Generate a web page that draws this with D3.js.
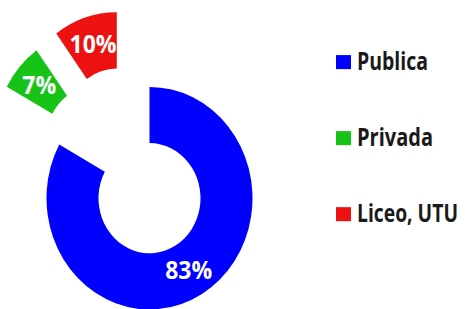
<!DOCTYPE html>
<html>
<head>
<meta charset="utf-8">
<script src="https://cdn.jsdelivr.net/npm/d3@7"></script>
<style>
  body { margin: 0; background: #fff; }
  svg { display: block; }
</style>
</head>
<body>
<div class="chart"></div>
<script>
// data
var categories = ['Publica', 'Privada', 'Liceo, UTU'];
var shares = [83, 7, 10];
var colors = ['#0000ff', '#17c317', '#ee1111'];

// layout (the original looks a bit stretched vertically)
var W = 465, H = 309, stretch = 1.08;
var cx = 149.5, cy = 183.5, outerR = 103, innerR = 51;
// pulled out slices: distance and direction (deg, clockwise from top)
var pullDist = [0, 75, 76.5];
var pullDir = [0, 315.6, 334.7];

var svg = d3.select('.chart').append('svg')
  .attr('width', W)
  .attr('height', H);

var g = svg.append('g')
  .attr('transform', 'scale(1,' + stretch + ')');

var pie = d3.pie().sort(null).value(function(d){ return d; });
var arcs = pie(shares);

var arc = d3.arc().innerRadius(innerR).outerRadius(outerR);

var slices = g.selectAll('g.slice')
  .data(arcs)
  .enter().append('g')
  .attr('class', 'slice')
  .attr('transform', function(d, i){
    var a = pullDir[i] * Math.PI / 180;
    var x = cx + Math.sin(a) * pullDist[i];
    var y = cy - Math.cos(a) * pullDist[i];
    return 'translate(' + x + ',' + y + ')';
  });

slices.append('path')
  .attr('d', arc)
  .attr('fill', function(d, i){ return colors[i]; });

var total = d3.sum(shares);
slices.append('text')
  .attr('transform', function(d){
    var c = arc.centroid(d);
    return 'translate(' + c[0] + ',' + c[1] + ')';
  })
  .attr('text-anchor', 'middle')
  .attr('dy', '0.36em')
  .attr('font-family', 'Open Sans, sans-serif')
  .attr('font-weight', 'bold')
  .attr('font-size', 23)
  .attr('fill', '#fff')
  .text(function(d){ return Math.round(d.value / total * 100) + '%'; });

// legend
var legend = g.selectAll('g.legend')
  .data(categories)
  .enter().append('g')
  .attr('class', 'legend')
  .attr('transform', function(d, i){ return 'translate(336,' + (57.5 + i * 70.4) + ')'; });

legend.append('rect')
  .attr('x', 0)
  .attr('y', -6.5)
  .attr('width', 15)
  .attr('height', 13)
  .attr('fill', function(d, i){ return colors[i]; });

// the original font is narrow, so squeeze the text horizontally
var textWidths = [71, 76, 101];
legend.append('text')
  .attr('font-family', 'Open Sans, sans-serif')
  .attr('font-weight', 'bold')
  .attr('font-size', 22.5)
  .attr('fill', '#1a1a1a')
  .text(function(d){ return d; })
  .attr('transform', function(d, i){
    var sx = textWidths[i] / this.getComputedTextLength();
    return 'translate(21,7.4) scale(' + sx + ',1)';
  });
</script>
</body>
</html>
